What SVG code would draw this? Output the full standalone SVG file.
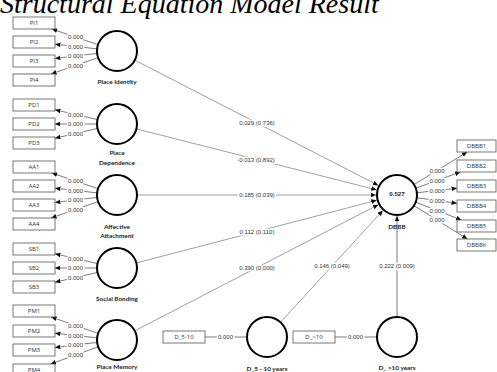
<svg xmlns="http://www.w3.org/2000/svg" width="497" height="372" viewBox="0 0 497 372">
<style>
.title{font-family:"Liberation Serif",serif;font-style:italic;font-size:28px;fill:#000}
.box{fill:#fff;stroke:#555;stroke-width:0.8}
.bt{font-family:"Open Sans","Liberation Sans",sans-serif;font-size:6px;fill:#333;text-anchor:middle}
.lv{fill:#fff;stroke:#000;stroke-width:2}
.nl{font-family:Lato,"Liberation Sans",sans-serif;font-weight:700;font-size:6.4px;fill:#222;text-anchor:middle}
.ld{stroke:#444;stroke-width:0.7;fill:none}
.sp{stroke:#777;stroke-width:0.7;fill:none}
.num{font-family:"Liberation Sans",Arial,sans-serif;font-size:6px;fill:#333;text-anchor:middle;paint-order:stroke;stroke:#fff;stroke-width:3px;stroke-linejoin:round}
.r2{font-family:"Liberation Sans",Arial,sans-serif;font-size:6.2px;font-weight:700;fill:#1a1a3a;text-anchor:middle}
</style>
<defs>
<marker id="ah" markerUnits="userSpaceOnUse" markerWidth="6" markerHeight="5" refX="4.5" refY="2" orient="auto" viewBox="0 0 5 4">
<path d="M0,0 L4.5,2 L0,4 Z" fill="#111"/>
</marker>
</defs>
<text class="title" x="0" y="13">Structural Equation Model Result</text>

<g id="connectors">
<line class="ld" x1="98.05" y1="44.61" x2="51.8" y2="29" marker-end="url(#ah)"/>
<line class="ld" x1="97.12" y1="48.84" x2="55" y2="44.28" marker-end="url(#ah)"/>
<line class="ld" x1="97.14" y1="53.39" x2="55" y2="58.47" marker-end="url(#ah)"/>
<line class="ld" x1="98.12" y1="57.6" x2="51.17" y2="74" marker-end="url(#ah)"/>
<line class="ld" x1="97.5" y1="119.54" x2="55" y2="109.8" marker-end="url(#ah)"/>
<line class="ld" x1="97" y1="124" x2="55" y2="124" marker-end="url(#ah)"/>
<line class="ld" x1="97.5" y1="128.46" x2="55" y2="138.2" marker-end="url(#ah)"/>
<line class="ld" x1="98.05" y1="188.61" x2="51.79" y2="173" marker-end="url(#ah)"/>
<line class="ld" x1="97.12" y1="192.84" x2="55" y2="188.28" marker-end="url(#ah)"/>
<line class="ld" x1="97.14" y1="197.39" x2="55" y2="202.47" marker-end="url(#ah)"/>
<line class="ld" x1="98.12" y1="201.6" x2="51.17" y2="218" marker-end="url(#ah)"/>
<line class="ld" x1="97.5" y1="263.54" x2="55" y2="253.8" marker-end="url(#ah)"/>
<line class="ld" x1="97" y1="268" x2="55" y2="268" marker-end="url(#ah)"/>
<line class="ld" x1="97.5" y1="272.46" x2="55" y2="282.2" marker-end="url(#ah)"/>
<line class="ld" x1="98.12" y1="333.4" x2="51.17" y2="317" marker-end="url(#ah)"/>
<line class="ld" x1="97.12" y1="337.84" x2="55" y2="333.28" marker-end="url(#ah)"/>
<line class="ld" x1="97.14" y1="342.39" x2="55" y2="347.47" marker-end="url(#ah)"/>
<line class="ld" x1="98.19" y1="346.8" x2="50.6" y2="364" marker-end="url(#ah)"/>
<line class="ld" x1="414.06" y1="184.55" x2="467.2" y2="152" marker-end="url(#ah)"/>
<line class="ld" x1="415.8" y1="188.18" x2="460.45" y2="172" marker-end="url(#ah)"/>
<line class="ld" x1="416.87" y1="192.76" x2="457" y2="188.25" marker-end="url(#ah)"/>
<line class="ld" x1="416.81" y1="197.72" x2="457" y2="203.25" marker-end="url(#ah)"/>
<line class="ld" x1="415.65" y1="202.23" x2="461.5" y2="220" marker-end="url(#ah)"/>
<line class="ld" x1="413.96" y1="205.6" x2="467.4" y2="239" marker-end="url(#ah)"/>
<line class="ld" x1="205" y1="337" x2="247" y2="337"/>
<line class="ld" x1="335" y1="337" x2="377" y2="337"/>
<line class="sp" x1="134.79" y1="60.15" x2="378.32" y2="185.4" marker-end="url(#ah)"/>
<line class="sp" x1="136.39" y1="128.92" x2="376.64" y2="189.84" marker-end="url(#ah)"/>
<line class="sp" x1="137" y1="195" x2="376" y2="195" marker-end="url(#ah)"/>
<line class="sp" x1="136.35" y1="262.95" x2="376.68" y2="200.3" marker-end="url(#ah)"/>
<line class="sp" x1="134.76" y1="330.8" x2="378.35" y2="204.66" marker-end="url(#ah)"/>
<line class="sp" x1="280.5" y1="322.25" x2="382.82" y2="210.49" marker-end="url(#ah)"/>
<line class="ld" x1="397" y1="317" x2="397" y2="216" marker-end="url(#ah)"/>

<text class="num" x="75.5" y="39">0.000</text>
<text class="num" x="75.5" y="48.5">0.000</text>
<text class="num" x="75.5" y="58">0.000</text>
<text class="num" x="75.5" y="67.5">0.000</text>
<text class="num" x="75.5" y="116.5">0.000</text>
<text class="num" x="75.5" y="126">0.000</text>
<text class="num" x="75.5" y="135.5">0.000</text>
<text class="num" x="75.5" y="183">0.000</text>
<text class="num" x="75.5" y="192.5">0.000</text>
<text class="num" x="75.5" y="202">0.000</text>
<text class="num" x="75.5" y="211.5">0.000</text>
<text class="num" x="75.5" y="260.5">0.000</text>
<text class="num" x="75.5" y="270">0.000</text>
<text class="num" x="75.5" y="279.5">0.000</text>
<text class="num" x="75.5" y="327.5">0.000</text>
<text class="num" x="75.5" y="337.5">0.000</text>
<text class="num" x="75.5" y="347">0.000</text>
<text class="num" x="75.5" y="357">0.000</text>
<text class="num" x="437" y="172.5">0.000</text>
<text class="num" x="437" y="182.5">0.000</text>
<text class="num" x="437" y="192.5">0.000</text>
<text class="num" x="437" y="202.5">0.000</text>
<text class="num" x="437" y="212.5">0.000</text>
<text class="num" x="437" y="222">0.000</text>
<text class="num" x="225.5" y="339">0.000</text>
<text class="num" x="355.5" y="339">0.000</text>
<text class="num" x="257" y="125">0.029 (0.736)</text>
<text class="num" x="256" y="161.5">-0.013 (0.892)</text>
<text class="num" x="257" y="197">0.185 (0.039)</text>
<text class="num" x="257" y="233.5">0.112 (0.110)</text>
<text class="num" x="257" y="270">0.390 (0.000)</text>
<text class="num" x="332" y="268">0.146 (0.049)</text>
<text class="num" x="397" y="268">0.222 (0.009)</text>
</g>

<g id="pi">
<circle class="lv" cx="117" cy="51" r="20"/>
<text class="nl" x="117" y="84">Place Identity</text>
</g>
<g id="pd">
<circle class="lv" cx="117" cy="124" r="20"/>
<text class="nl" x="117" y="155">Place</text>
<text class="nl" x="117" y="164.5">Dependence</text>
</g>
<g id="aa">
<circle class="lv" cx="117" cy="195" r="20"/>
<text class="nl" x="117" y="229">Affective</text>
<text class="nl" x="117" y="237.5">Attachment</text>
</g>
<g id="sb">
<circle class="lv" cx="117" cy="268" r="20"/>
<text class="nl" x="117" y="300.5">Social Bonding</text>
</g>
<g id="pm">
<circle class="lv" cx="117" cy="340" r="20"/>
<text class="nl" x="117" y="369">Place Memory</text>
</g>
<g id="dbbb">
<circle class="lv" cx="397" cy="195" r="20"/>
<text class="r2" x="397" y="195.5">0.527</text>
<text class="nl" x="397" y="228.5">DBBB</text>
</g>
<g id="d5">
<circle class="lv" cx="267" cy="337" r="20"/>
<text class="nl" x="267" y="370.5">D_5 - 10 years</text>
</g>
<g id="d10">
<circle class="lv" cx="397" cy="337" r="20"/>
<text class="nl" x="397" y="369.5">D_ &gt;10 years</text>
</g>

<g id="ind-PI1"><rect class="box" x="13" y="17" width="42" height="12"/><text class="bt" x="34" y="25.2">PI1</text></g>
<g id="ind-PI2"><rect class="box" x="13" y="36" width="42" height="12"/><text class="bt" x="34" y="44.2">PI2</text></g>
<g id="ind-PI3"><rect class="box" x="13" y="55" width="42" height="12"/><text class="bt" x="34" y="63.2">PI3</text></g>
<g id="ind-PI4"><rect class="box" x="13" y="74" width="42" height="12"/><text class="bt" x="34" y="82.2">PI4</text></g>
<g id="ind-PD1"><rect class="box" x="13" y="99" width="42" height="12"/><text class="bt" x="34" y="107.2">PD1</text></g>
<g id="ind-PD2"><rect class="box" x="13" y="118" width="42" height="12"/><text class="bt" x="34" y="126.2">PD2</text></g>
<g id="ind-PD3"><rect class="box" x="13" y="137" width="42" height="12"/><text class="bt" x="34" y="145.2">PD3</text></g>
<g id="ind-AA1"><rect class="box" x="13" y="161" width="42" height="12"/><text class="bt" x="34" y="169.2">AA1</text></g>
<g id="ind-AA2"><rect class="box" x="13" y="180" width="42" height="12"/><text class="bt" x="34" y="188.2">AA2</text></g>
<g id="ind-AA3"><rect class="box" x="13" y="199" width="42" height="12"/><text class="bt" x="34" y="207.2">AA3</text></g>
<g id="ind-AA4"><rect class="box" x="13" y="218" width="42" height="12"/><text class="bt" x="34" y="226.2">AA4</text></g>
<g id="ind-SB1"><rect class="box" x="13" y="243" width="42" height="12"/><text class="bt" x="34" y="251.2">SB1</text></g>
<g id="ind-SB2"><rect class="box" x="13" y="262" width="42" height="12"/><text class="bt" x="34" y="270.2">SB2</text></g>
<g id="ind-SB3"><rect class="box" x="13" y="281" width="42" height="12"/><text class="bt" x="34" y="289.2">SB3</text></g>
<g id="ind-PM1"><rect class="box" x="13" y="305" width="42" height="12"/><text class="bt" x="34" y="313.2">PM1</text></g>
<g id="ind-PM2"><rect class="box" x="13" y="325" width="42" height="12"/><text class="bt" x="34" y="333.2">PM2</text></g>
<g id="ind-PM3"><rect class="box" x="13" y="344" width="42" height="12"/><text class="bt" x="34" y="352.2">PM3</text></g>
<g id="ind-PM4"><rect class="box" x="13" y="364" width="42" height="12"/><text class="bt" x="34" y="371.5">PM4</text></g>
<g id="ind-DBBB1"><rect class="box" x="457" y="140" width="39" height="12"/><text class="bt" x="476.5" y="148.2">DBBB1</text></g>
<g id="ind-DBBB2"><rect class="box" x="457" y="160" width="39" height="12"/><text class="bt" x="476.5" y="168.2">DBBB2</text></g>
<g id="ind-DBBB3"><rect class="box" x="457" y="180" width="39" height="12"/><text class="bt" x="476.5" y="188.2">DBBB3</text></g>
<g id="ind-DBBB4"><rect class="box" x="457" y="200" width="39" height="12"/><text class="bt" x="476.5" y="208.2">DBBB4</text></g>
<g id="ind-DBBB5"><rect class="box" x="457" y="220" width="39" height="12"/><text class="bt" x="476.5" y="228.2">DBBB5</text></g>
<g id="ind-DBBB6"><rect class="box" x="457" y="239" width="39" height="12"/><text class="bt" x="476.5" y="247.2">DBBB6</text></g>
<g id="ind-D510"><rect class="box" x="163" y="331" width="42" height="12"/><text class="bt" x="184" y="339.2">D_5-10</text></g>
<g id="ind-D10"><rect class="box" x="293" y="331" width="42" height="12"/><text class="bt" x="314" y="339.2">D_&gt;10</text></g>
</svg>
